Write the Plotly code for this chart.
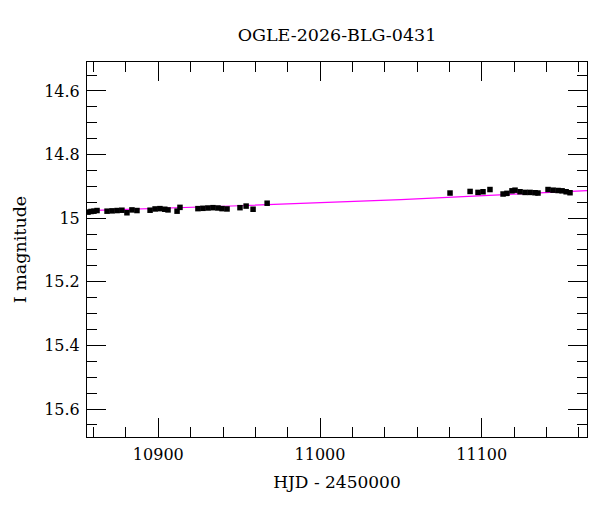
import plotly.graph_objects as go

# OGLE photometry
hjd = [10856.5, 10858.4, 10860.2, 10862.1, 10868.3, 10871.4, 10874.5, 10877.5,
       10880.6, 10883.7, 10886.8, 10894.9, 10898.0, 10901.0, 10904.0, 10906.0,
       10911.6, 10913.4, 10924.5, 10927.6, 10930.7, 10933.8, 10936.9, 10939.4,
       10942.5, 10950.5, 10954.3, 10958.6, 10967.3,
       11080.4, 11092.8, 11097.7, 11100.8, 11105.1, 11113.2, 11115.6, 11118.7,
       11120.6, 11123.7, 11126.8, 11129.9, 11133.0, 11134.8, 11141.0, 11144.1,
       11147.2, 11149.7, 11152.2, 11154.6]
imag = [14.981, 14.979, 14.978, 14.976, 14.978, 14.977, 14.976, 14.975,
        14.983, 14.974, 14.976, 14.975, 14.971, 14.970, 14.972, 14.974,
        14.978, 14.966, 14.970, 14.969, 14.968, 14.967, 14.968, 14.970,
        14.971, 14.967, 14.962, 14.972, 14.953,
        14.921, 14.916, 14.919, 14.917, 14.910, 14.924, 14.922, 14.914,
        14.912, 14.917, 14.919, 14.919, 14.920, 14.921, 14.910, 14.912,
        14.913, 14.914, 14.917, 14.920]
ierr = [0.004] * len(hjd)

# model curve (magenta)
model_hjd = [10850.0, 10950.0, 11050.0, 11170.0]
model_mag = [14.977, 14.961, 14.942, 14.912]

serif = "DejaVu Serif"

fig = go.Figure()
fig.add_trace(go.Scatter(
    x=model_hjd, y=model_mag, mode="lines",
    line=dict(color="#ff00ff", width=1.2),
    hoverinfo="skip",
))
fig.add_trace(go.Scatter(
    x=hjd, y=imag, mode="markers",
    marker=dict(symbol="square", size=5.5, color="black"),
    error_y=dict(type="data", array=ierr, color="black", thickness=1, width=0),
))

axis_common = dict(
    showline=True, linecolor="black", linewidth=1, mirror="ticks",
    ticks="inside", tickcolor="black", tickwidth=1, ticklen=19,
    showgrid=False, zeroline=False, automargin=False,
    ticklabelstandoff=3,
    tickfont=dict(family=serif, size=16, color="black"),
)

fig.update_layout(
    width=600, height=512,
    margin=dict(l=79, r=21, t=54, b=83),
    paper_bgcolor="white", plot_bgcolor="white",
    showlegend=False,
    title=dict(text="OGLE-2026-BLG-0431", x=(79 + 579) / 2 / 600, xanchor="center",
               y=1 - 27 / 512, yanchor="middle",
               font=dict(family=serif, size=17.5, color="black")),
    xaxis=dict(
        range=[10855.9, 11165.1], dtick=100, tick0=10900, tickformat="d",
        minor=dict(dtick=20, ticklen=10, ticks="inside", tickcolor="black"),
        title=dict(text="HJD - 2450000", standoff=12,
                   font=dict(family=serif, size=17, color="black")),
        **axis_common,
    ),
    yaxis=dict(
        range=[15.688, 14.509], dtick=0.2, tick0=14.6,
        minor=dict(dtick=0.05, ticklen=10, ticks="inside", tickcolor="black"),
        tickformat="~g",
        title=dict(text="I magnitude", standoff=13,
                   font=dict(family=serif, size=17.5, color="black")),
        **axis_common,
    ),
)

fig.write_html("out.html")
